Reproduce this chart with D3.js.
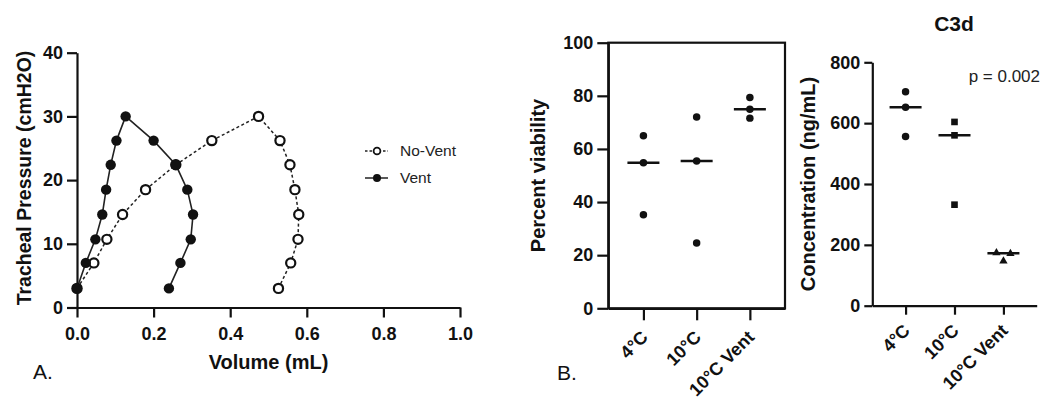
<!DOCTYPE html>
<html>
<head>
<meta charset="utf-8">
<script src="https://cdn.jsdelivr.net/npm/d3@7"></script>
<style>
  body { margin: 0; background: #fff; }
  svg { font-family: Arial, "Liberation Sans", sans-serif; }
  .axis path, .axis line { stroke: #111; stroke-width: 2.2; }
  .axis text { font-size: 18px; font-weight: bold; fill: #111; }
</style>
</head>
<body>
<svg id="fig" width="1042" height="402"></svg>
<script>
// panel A: pressure-volume loops
const pressure = [3, 7, 10.7, 14.6, 18.5, 22.4, 26.2, 30, 26.2, 22.4, 18.5, 14.6, 10.7, 7, 3];
const ventVolume = [0, 0.023, 0.048, 0.066, 0.076, 0.088, 0.103, 0.127, 0.200, 0.258, 0.288, 0.303, 0.297, 0.270, 0.240];
const noVentVolume = [0, 0.044, 0.078, 0.119, 0.179, 0.258, 0.352, 0.474, 0.530, 0.556, 0.569, 0.579, 0.577, 0.558, 0.526];
const volTicks = [0, 0.2, 0.4, 0.6, 0.8, 1.0];
const presTicks = [0, 10, 20, 30, 40];

// panel B: viability and C3d
const groups = ["4°C", "10°C", "10°C Vent"];
const viability = [[65, 54.8, 35.2], [72, 55.5, 24.6], [79.4, 74.9, 71.6]];
const viabilityMedian = [54.8, 55.5, 74.9];
const viabTicks = [0, 20, 40, 60, 80, 100];
const c3d = [[703, 652, 556], [604, 560, 332], [174, 171, 147]];
const c3dMedian = [652, 560, 172];
const c3dTicks = [0, 200, 400, 600, 800];
const c3dShapes = [d3.symbolCircle, d3.symbolSquare, d3.symbolTriangle];

const svg = d3.select("#fig");

// ---------- A ----------
const xA = d3.scaleLinear().domain([0, 1]).range([77, 460]);
const yA = d3.scaleLinear().domain([0, 40]).range([307.5, 52.7]);

svg.append("g").attr("class", "axis")
  .attr("transform", `translate(0,${yA(0)})`)
  .call(d3.axisBottom(xA).tickValues(volTicks).tickFormat(d3.format(".1f")).tickSize(10).tickSizeOuter(0).tickPadding(10));
svg.append("g").attr("class", "axis")
  .attr("transform", `translate(${xA(0)},0)`)
  .call(d3.axisLeft(yA).tickValues(presTicks).tickSize(10).tickSizeOuter(0).tickPadding(4));

const line = d3.line().x(d => xA(d[0])).y(d => yA(d[1]));
const noVent = noVentVolume.map((v, i) => [v, pressure[i]]);
const vent = ventVolume.map((v, i) => [v, pressure[i]]);

svg.append("path").datum(noVent).attr("d", line)
  .attr("fill", "none").attr("stroke", "#222").attr("stroke-width", 1.5).attr("stroke-dasharray", "3,2.5");
svg.append("path").datum(vent).attr("d", line)
  .attr("fill", "none").attr("stroke", "#222").attr("stroke-width", 1.6);

svg.append("g").selectAll("circle").data(noVent).join("circle")
  .attr("cx", d => xA(d[0])).attr("cy", d => yA(d[1])).attr("r", 4.6)
  .attr("fill", "#fff").attr("stroke", "#111").attr("stroke-width", 2.2);
svg.append("g").selectAll("circle").data(vent).join("circle")
  .attr("cx", d => xA(d[0])).attr("cy", d => yA(d[1])).attr("r", 5.2)
  .attr("fill", "#111");

// legend
const leg = svg.append("g");
[["No-Vent", true], ["Vent", false]].forEach(([name, open], i) => {
  const y = 151 + i * 27;
  leg.append("line").attr("x1", 365).attr("x2", 388).attr("y1", y).attr("y2", y)
    .attr("stroke", "#222").attr("stroke-width", 1.5).attr("stroke-dasharray", open ? "2.5,2" : null);
  leg.append("circle").attr("cx", 377).attr("cy", y).attr("r", open ? 3.4 : 4)
    .attr("fill", open ? "#fff" : "#111").attr("stroke", "#111").attr("stroke-width", open ? 1.8 : 0);
  leg.append("text").attr("x", 400).attr("y", y).attr("dy", "0.35em")
    .style("font-size", "15.5px").style("fill", "#222").text(name);
});

svg.append("text").attr("transform", "translate(31,178) rotate(-90)")
  .attr("text-anchor", "middle").style("font-size", "19.5px").style("font-weight", "bold").style("fill", "#111")
  .text("Tracheal Pressure (cmH2O)");
svg.append("text").attr("x", (xA(0) + xA(1)) / 2).attr("y", 369)
  .attr("text-anchor", "middle").style("font-size", "20px").style("font-weight", "bold").style("fill", "#111")
  .text("Volume (mL)");
svg.append("text").attr("x", 33).attr("y", 379).style("font-size", "21px").style("fill", "#111").text("A.");

// ---------- dot plot helper ----------
function dotPanel(opts) {
  const x = d3.scalePoint().domain(groups).range(opts.xRange).padding(opts.pad);
  const y = d3.scaleLinear().domain(opts.yDomain).range(opts.yRange);
  const g = svg.append("g");

  if (opts.box) {
    g.append("rect").attr("x", opts.xRange[0]).attr("y", opts.yRange[1])
      .attr("width", opts.xRange[1] - opts.xRange[0]).attr("height", opts.yRange[0] - opts.yRange[1])
      .attr("fill", "none").attr("stroke", "#111").attr("stroke-width", 2.2);
  }

  const xa = g.append("g").attr("class", "axis")
    .attr("transform", `translate(0,${opts.yRange[0]})`)
    .call(d3.axisBottom(x).tickSize(opts.xTick).tickSizeOuter(0));
  xa.selectAll("text")
    .attr("y", 0).attr("dy", null)
    .attr("text-anchor", "end")
    .attr("transform", `translate(${opts.lx},${opts.ly}) rotate(-45)`)
    .style("font-size", "18px");

  g.append("g").attr("class", "axis")
    .attr("transform", `translate(${opts.xRange[0]},0)`)
    .call(d3.axisLeft(y).tickValues(opts.ticks).tickSize(opts.yTick).tickSizeOuter(0).tickPadding(4));

  opts.values.forEach((vals, gi) => {
    // side-by-side offset for points that would overlap
    const order = vals.map((v, i) => i).sort((a, b) => vals[b] - vals[a]);
    const off = new Array(vals.length).fill(0);
    let cluster = [order[0]];
    const flush = () => {
      cluster.forEach((k, j) => { off[k] = (j - (cluster.length - 1) / 2) * 14; });
    };
    for (let j = 1; j < order.length; j++) {
      if (Math.abs(y(vals[order[j]]) - y(vals[order[j - 1]])) < 6) cluster.push(order[j]);
      else { flush(); cluster = [order[j]]; }
    }
    flush();

    g.append("line")
      .attr("x1", x(groups[gi]) - 16).attr("x2", x(groups[gi]) + 16)
      .attr("y1", y(opts.median[gi])).attr("y2", y(opts.median[gi]))
      .attr("stroke", "#111").attr("stroke-width", 2.5);

    g.append("g").selectAll("path").data(vals).join("path")
      .attr("transform", (d, i) => `translate(${x(groups[gi]) + off[i]},${y(d)})`)
      .attr("d", d3.symbol().type(opts.shapes[gi]).size(opts.shapes[gi] === d3.symbolTriangle ? 30 : 44))
      .attr("fill", "#111");
  });

  g.append("text").attr("transform", `translate(${opts.titleX},${(opts.yRange[0] + opts.yRange[1]) / 2}) rotate(-90)`)
    .attr("text-anchor", "middle").style("font-size", "20px").style("font-weight", "bold").style("fill", "#111")
    .text(opts.title);
  return { x, y };
}

dotPanel({
  xRange: [608.3, 785], pad: 0.66, yDomain: [0, 100], yRange: [308.3, 42.7],
  ticks: viabTicks, values: viability, median: viabilityMedian,
  shapes: [d3.symbolCircle, d3.symbolCircle, d3.symbolCircle],
  box: true, xTick: 12, yTick: 11, lx: 5, ly: 30, titleX: 545, title: "Percent viability"
});
svg.append("text").attr("x", 557).attr("y", 380).style("font-size", "21px").style("fill", "#111").text("B.");

dotPanel({
  xRange: [872.3, 1036.7], pad: 0.68, yDomain: [0, 800], yRange: [305.7, 62.3],
  ticks: c3dTicks, values: c3d, median: c3dMedian, shapes: c3dShapes,
  box: false, xTick: 9, yTick: 8, lx: 5, ly: 26, titleX: 815, title: "Concentration (ng/mL)"
});
svg.append("text").attr("x", 954).attr("y", 31).attr("text-anchor", "middle")
  .style("font-size", "21px").style("font-weight", "bold").style("fill", "#111").text("C3d");
svg.append("text").attr("x", 1040).attr("y", 82).attr("text-anchor", "end")
  .style("font-size", "17px").style("fill", "#222").text("p = 0.002");
</script>
</body>
</html>
